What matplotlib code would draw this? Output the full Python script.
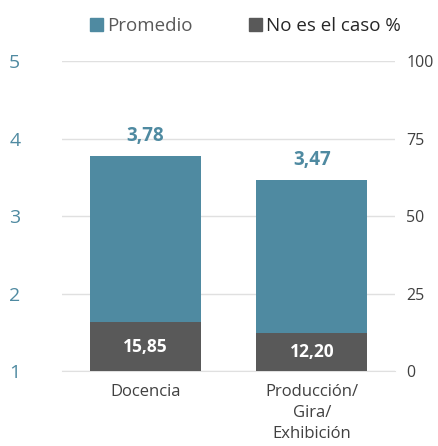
import matplotlib
matplotlib.use("Agg")
import matplotlib.pyplot as plt
from matplotlib.patches import Patch

categories = ["Docencia", "Producción/\nGira/\nExhibición"]
promedio = [3.78, 3.47]
no_es_el_caso = [15.85, 12.20]
left_ticks = [1, 2, 3, 4, 5]
right_ticks = [0, 25, 50, 75, 100]

blue = "#4F8AA1"
dark = "#595959"
grid = "#E0E0E0"

plt.rcParams['font.family'] = ['Open Sans', 'DejaVu Sans']

fig = plt.figure(figsize=(4.38, 4.46), dpi=100)
ax = fig.add_axes([0.1416, 0.168, 0.7604, 0.695])
ax2 = ax.twinx()

x = list(range(len(categories)))
w = 0.667
ax.bar(x, [p - 1 for p in promedio], bottom=1, width=w, color=blue, zorder=2)
ax2.bar(x, no_es_el_caso, width=w, color=dark, zorder=3)

ax.set_ylim(1, 5)
ax2.set_ylim(0, 100)
ax.set_xlim(-0.5, 1.5)
ax.set_yticks(left_ticks)
ax2.set_yticks(right_ticks)
ax.set_xticks(x)
ax.set_xticklabels(categories, fontsize=12, color="#404040", linespacing=1.45)
ax.yaxis.grid(True, color=grid, linewidth=1)
ax.set_axisbelow(True)
for a in (ax, ax2):
    for s in a.spines.values():
        s.set_visible(False)
    a.tick_params(length=0)
ax.spines['bottom'].set_visible(True)
ax.spines['bottom'].set_color(grid)
ax.tick_params(axis='y', labelcolor=blue, labelsize=14, pad=38)
ax2.tick_params(axis='y', labelcolor="#404040", labelsize=11.5, pad=8)
ax.tick_params(axis='x', pad=9)
for lbl in ax.get_yticklabels():
    lbl.set_horizontalalignment("left")

for xi, p in zip(x, promedio):
    ax.text(xi, p + 0.12, f"{p:.2f}".replace(".", ","), ha="center", va="bottom",
            color=blue, fontsize=13.5, fontweight="bold")
for xi, n in zip(x, no_es_el_caso):
    ax2.text(xi, n / 2, f"{n:.2f}".replace(".", ","), ha="center", va="center",
             color="white", fontsize=12.5, fontweight="bold")

handles = [Patch(color=blue, label="Promedio"), Patch(color=dark, label="No es el caso %")]
fig.legend(handles=handles, loc="upper center", bbox_to_anchor=(0.56, 1.0), ncol=2,
           frameon=False, fontsize=13.5, handlelength=0.7, handleheight=0.7,
           handletextpad=0.2, columnspacing=3.0, labelcolor=["#595959", "#262626"])

fig.savefig("out.png", dpi=100)
